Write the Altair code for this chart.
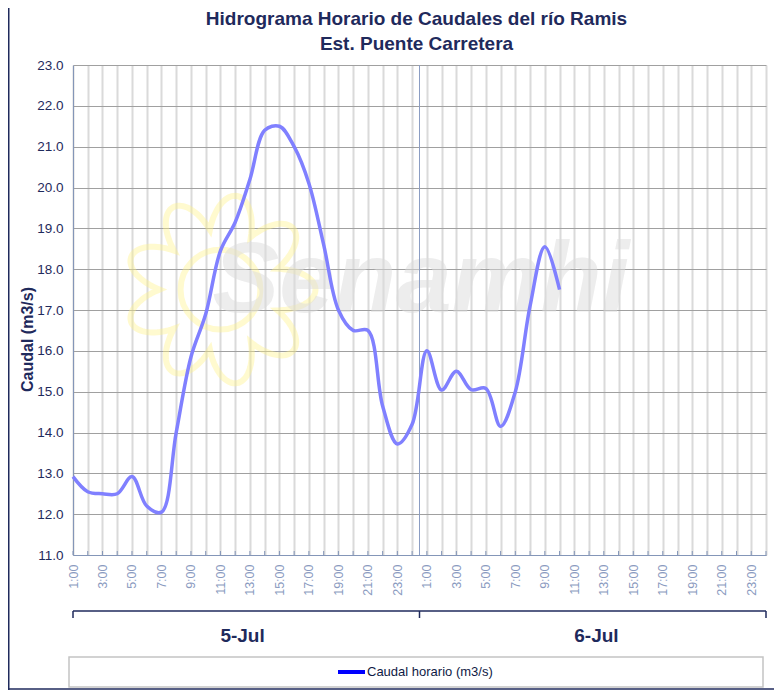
import altair as alt
import pandas as pd
import numpy as np

# ---------------- data ----------------
title_lines = ["Hidrograma  Horario de Caudales del río Ramis", "Est. Puente Carretera"]
days = ["5-Jul", "6-Jul"]
hours = ["1:00", "2:00", "3:00", "4:00", "5:00", "6:00", "7:00", "8:00",
         "9:00", "10:00", "11:00", "12:00", "13:00", "14:00", "15:00", "16:00",
         "17:00", "18:00", "19:00", "20:00", "21:00", "22:00", "23:00", "24:00"]
caudal = [12.92, 12.55, 12.50, 12.50, 12.92, 12.20, 12.05, 14.00, 15.85, 16.90,
          18.45, 19.15, 20.20, 21.40, 21.50, 21.00, 20.10, 18.60, 17.00, 16.50,
          16.50, 14.65, 13.72, 14.20, 16.00, 15.04, 15.50, 15.05, 15.08, 14.15,
          15.00, 17.10, 18.55, 17.50]
y_ticks = [11, 12, 13, 14, 15, 16, 17, 18, 19, 20, 21, 22, 23]
y_title = "Caudal  (m3/s)"
legend_label = "Caudal horario (m3/s)"
watermark = "Senamhi"

# ---------------- layout ----------------
W, H = 693, 490
PAD = {"left": 65, "top": 57, "right": 8, "bottom": 135}
TOTAL_H = PAD["top"] + H + PAD["bottom"]
NAVY = "#1F2A5C"
AXIS_BLUE = "#8496B8"

n_hours = len(hours)
n_slots = n_hours * len(days)
slot_labels = [h if i % 2 == 0 else "" for d in days for i, h in enumerate(hours)]
label_expr = "[" + ",".join("'%s'" % s for s in slot_labels) + "][datum.value]"

x_scale = alt.Scale(domain=[0, n_slots - 1], nice=False, zero=False)
y_scale = alt.Scale(domain=[y_ticks[0], y_ticks[-1]], nice=False, zero=False)

df = pd.DataFrame({"idx": list(range(len(caudal))), "caudal": caudal})
slots_df = pd.DataFrame({"idx": list(range(n_slots))})
sep_df = pd.DataFrame({"idx": [n_hours - 0.5], "caudal": [y_ticks[0]], "y1": [y_ticks[-1]]})
bracket_df = pd.DataFrame({"idx": [0], "x1": [n_slots - 1]})
bracket_ticks_df = pd.DataFrame({"idx": [0, n_hours - 0.5, n_slots - 1]})
days_df = pd.DataFrame({"day": days,
                        "idx": [i * n_hours + (n_hours - 1) / 2 for i in range(len(days))]})
sun_df = pd.DataFrame({"idx": [10], "caudal": [17.5]})
wm_df = pd.DataFrame({"idx": [23.6], "caudal": [16.95], "t": [watermark]})
title_df = pd.DataFrame({"t": title_lines, "row": list(range(len(title_lines)))})

# sun-like outline shape for the watermark (unit coordinates)
th = np.linspace(0, 2 * np.pi, 361)
r = 0.64 + 0.36 * np.abs(np.cos(4.5 * th))
px, py = r * np.cos(th), r * np.sin(th)
sun_path = "M" + " L".join("%.3f %.3f" % (a, b) for a, b in zip(px, py)) + " Z"
R_SUN = 95

x_axis = alt.Axis(values=list(range(n_slots)), labelExpr=label_expr, labelAngle=270,
                  labelFont="Liberation Sans", labelFontSize=12.5, labelColor="#8A9AC0",
                  labelPadding=9, labelOverlap=False, labelFlush=False, labelBound=False,
                  ticks=False, domainColor=AXIS_BLUE, domainWidth=1,
                  grid=True, gridColor="#DADADA", gridWidth=2, title=None)
y_axis = alt.Axis(values=y_ticks, format=".1f", labelFont="Liberation Sans",
                  labelFontSize=13.5, labelColor=NAVY, labelPadding=10, ticks=False,
                  domainColor=AXIS_BLUE, domainWidth=1, grid=True, gridColor="#A0A0A0",
                  gridWidth=1, title=y_title, titleFont="Liberation Sans",
                  titleFontSize=16, titleFontWeight="bold", titleColor=NAVY,
                  titleAngle=270, titleX=-46, titleY=274, titleAlign="center",
                  titleBaseline="middle")

X = alt.X("idx:Q", scale=x_scale, axis=x_axis)
Y = alt.Y("caudal:Q", scale=y_scale, axis=y_axis)

line = alt.Chart(df).mark_line(color="#8080FF", strokeWidth=3.5,
                               interpolate="catmull-rom").encode(x=X, y=Y)

sun = alt.Chart(sun_df).mark_point(shape=sun_path, size=(2 * R_SUN) ** 2, filled=False,
                                   stroke="#FFF38A", strokeWidth=6, opacity=0.4).encode(
    x=X, y=Y)
sun_core = alt.Chart(sun_df).mark_point(shape="circle", size=(2 * 0.42 * R_SUN) ** 2,
                                        filled=False, stroke="#FFF38A", strokeWidth=6,
                                        opacity=0.4).encode(x=X, y=Y)
wm_text = alt.Chart(wm_df).mark_text(font="Liberation Sans", fontSize=100,
                                     fontWeight="bold", fontStyle="italic",
                                     color="#DCDCDC", opacity=0.5, align="center",
                                     baseline="alphabetic").encode(x=X, y=Y, text="t:N")

sep = alt.Chart(sep_df).mark_rule(color="#8B9DC3", strokeWidth=1).encode(
    x=X, y=Y, y2="y1:Q")

xticks = alt.Chart(slots_df).mark_rule(color=AXIS_BLUE, strokeWidth=1).encode(
    x=X, y=alt.value(H - 4), y2=alt.value(H))

bracket = alt.Chart(bracket_df).mark_rule(color=NAVY, strokeWidth=1.5).encode(
    x=X, x2="x1:Q", y=alt.value(546))
bracket_ticks = alt.Chart(bracket_ticks_df).mark_rule(color=NAVY, strokeWidth=1.5).encode(
    x=X, y=alt.value(546), y2=alt.value(553))

day_text = alt.Chart(days_df).mark_text(font="Liberation Sans", fontSize=19,
                                        fontWeight="bold", color=NAVY,
                                        baseline="middle").encode(
    x=X, y=alt.value(571), text="day:N")

title_text = alt.Chart(title_df).transform_calculate(
    ypos="-40 + 25 * datum.row").mark_text(
    font="Liberation Sans", fontSize=19, fontWeight="bold", color=NAVY,
    align="center", baseline="alphabetic").encode(
    x=alt.value(W / 2 - 3), y=alt.Y("ypos:Q", scale=None), text="t:N")

leg_box = alt.Chart(pd.DataFrame({"a": [0]})).mark_rect(fill="white", stroke="#C4C4C4",
                                                        strokeWidth=1.5).encode(
    x=alt.value(-4), x2=alt.value(690), y=alt.value(592), y2=alt.value(622))
leg_line = alt.Chart(pd.DataFrame({"a": [0]})).mark_rule(color="#0000FF",
                                                         strokeWidth=4).encode(
    x=alt.value(265), x2=alt.value(292), y=alt.value(607))
leg_text = alt.Chart(pd.DataFrame({"t": [legend_label]})).mark_text(
    font="Liberation Sans", fontSize=13, color="#0F1A45", align="left",
    baseline="middle").encode(x=alt.value(294), y=alt.value(607), text="t:N")

border_left = alt.Chart(pd.DataFrame({"a": [0]})).mark_rule(color=NAVY,
                                                            strokeWidth=1.5).encode(
    x=alt.value(-PAD["left"] + 0.75), y=alt.value(-PAD["top"]),
    y2=alt.value(TOTAL_H - PAD["top"]))
border_bottom = alt.Chart(pd.DataFrame({"a": [0]})).mark_rule(color=NAVY,
                                                              strokeWidth=1.5).encode(
    x=alt.value(-PAD["left"]), x2=alt.value(W + PAD["right"]),
    y=alt.value(TOTAL_H - PAD["top"] - 1))

chart = alt.layer(
    sun, sun_core, wm_text, sep, xticks, line, bracket, bracket_ticks, day_text,
    leg_box, leg_line, leg_text, border_left, border_bottom, title_text
).properties(
    width=W, height=H, padding=PAD,
    autosize=alt.AutoSizeParams(type="none"),
    background="white"
).configure_view(stroke=None)

chart.save("out.html", embed_options={"renderer": "svg", "actions": False})
